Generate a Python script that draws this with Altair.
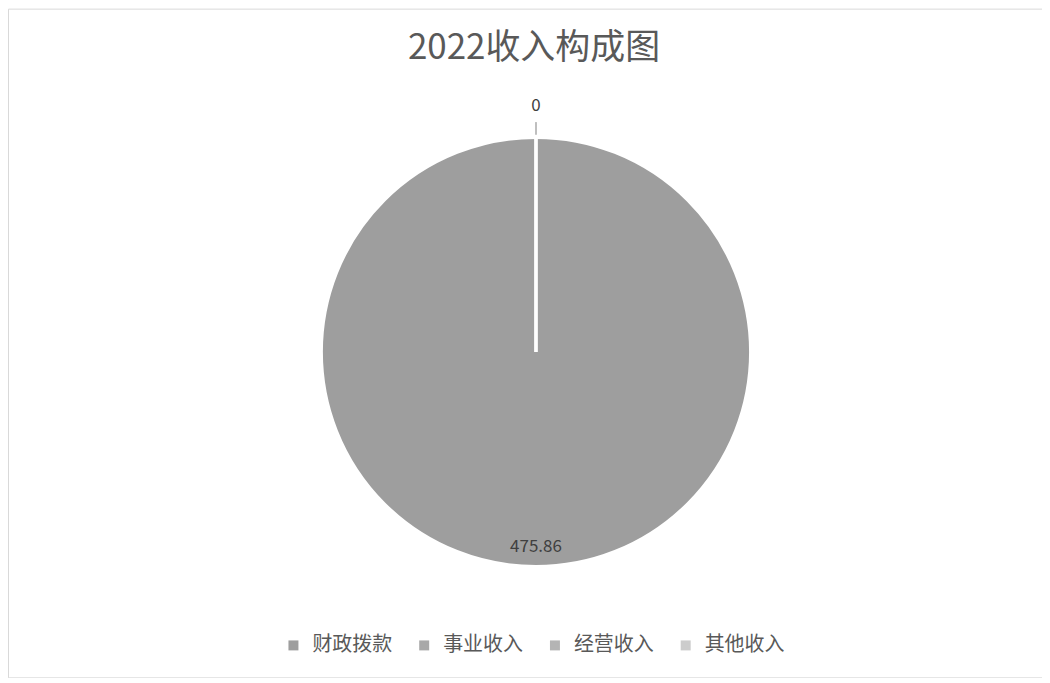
import altair as alt
import pandas as pd

categories = ["财政拨款", "事业收入", "经营收入", "其他收入"]
values = [475.86, 0, 0, 0]
labels = ["475.86", "0", "0", "0"]
colors = ["#9e9e9e", "#a8a8a8", "#b4b4b4", "#cccccc"]
title_text = "2022收入构成图"

df = pd.DataFrame({"cat": categories, "value": values, "label": labels,
                   "ord": list(range(len(categories)))})

FONT = "Noto Sans CJK SC"
CX, CY, R = 529, 344, 215

base = alt.Chart(df).encode(
    theta=alt.Theta("value:Q", stack=True),
    order=alt.Order("ord:Q"),
)

pie = base.mark_arc(stroke="white", strokeWidth=3, radius=R).encode(
    color=alt.Color("cat:N", scale=alt.Scale(domain=categories, range=colors),
                    sort=categories,
                    legend=alt.Legend(title=None, orient="none", direction="horizontal",
                                      legendX=276, legendY=628, columns=4,
                                      symbolType="square", symbolSize=100,
                                      symbolStrokeWidth=0,
                                      labelFont=FONT, labelFontSize=20,
                                      labelColor="#595959", columnPadding=22,
                                      labelOffset=9)),
    x=alt.value(CX), y=alt.value(CY),
)

leader = base.mark_arc(radius=218, radius2=230, fillOpacity=0, stroke="#bfbfbf",
                       strokeWidth=1).encode(
    x=alt.value(CX), y=alt.value(CY),
    strokeOpacity=alt.condition("datum.value == 0", alt.value(1), alt.value(0)),
)

txt = base.transform_calculate(
    lr="datum.value > 0 ? 195 : 246"
).mark_text(font=FONT, fontSize=17, color="#404040").encode(
    text="label:N",
    radius=alt.Radius("lr:Q", scale=None),
    x=alt.value(CX), y=alt.value(CY),
    opacity=alt.condition("datum.value > 0 || datum.ord == 3", alt.value(1), alt.value(0)),
)

title = alt.Chart(pd.DataFrame({"t": [title_text]})).mark_text(
    font=FONT, fontSize=35, color="#595959"
).encode(text="t:N", x=alt.value(527), y=alt.value(39))

chart = alt.layer(pie, leader, txt, title).properties(
    width=1036, height=670, padding=0
).configure_view(stroke="#d9d9d9", strokeWidth=1)

chart.save("out.html", embed_options={"renderer": "svg", "actions": False})
